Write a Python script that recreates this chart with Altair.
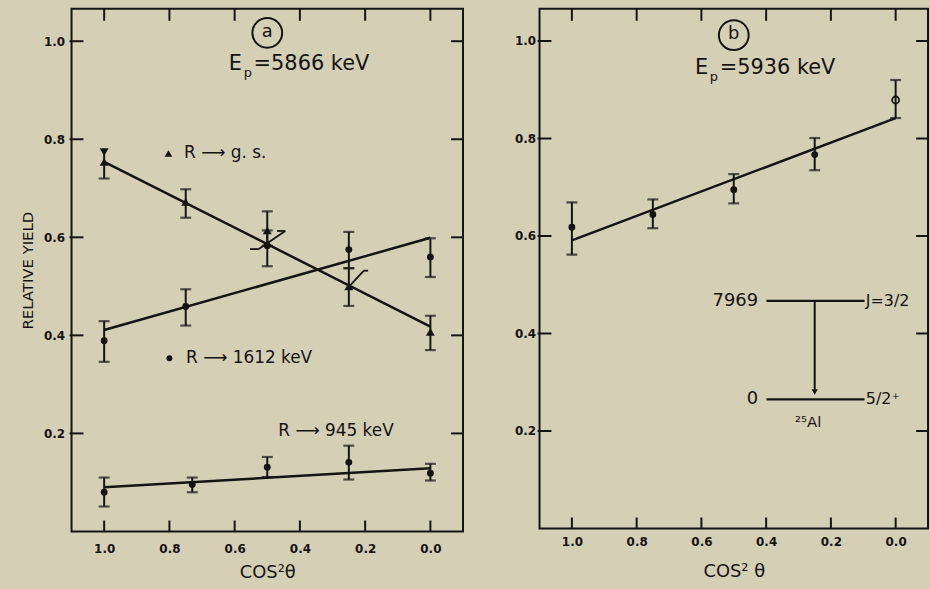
import altair as alt
import pandas as pd

# ---- data -------------------------------------------------------------
cos2 = [1.0, 0.75, 0.5, 0.25, 0.0]
cos2_945 = [1.0, 0.73, 0.5, 0.25, 0.0]

# panel (a), Ep = 5866 keV
gs_y = [0.754, 0.672, 0.614, 0.500, 0.407]
gs_lo = [0.720, 0.640, 0.583, 0.460, 0.370]
gs_hi = [0.778, 0.698, 0.653, 0.537, 0.440]
gs_fit = [0.754, 0.418]

k1612_y = [0.389, 0.459, 0.583, 0.575, 0.560]
k1612_lo = [0.346, 0.420, 0.541, 0.537, 0.519]
k1612_hi = [0.429, 0.494, 0.614, 0.611, 0.598]
k1612_fit = [0.411, 0.599]

k945_y = [0.080, 0.096, 0.131, 0.141, 0.119]
k945_lo = [0.051, 0.080, 0.111, 0.106, 0.104]
k945_hi = [0.110, 0.110, 0.152, 0.175, 0.138]
k945_fit = [0.090, 0.129]

# panel (b), Ep = 5936 keV
b_y = [0.618, 0.644, 0.695, 0.767, 0.879]
b_lo = [0.562, 0.616, 0.667, 0.735, 0.842]
b_hi = [0.669, 0.675, 0.727, 0.801, 0.920]
b_marker = ["dot", "dot", "dot", "dot", "ring"]
b_fit = [0.591, 0.842]

fit_x = [1.0, 0.0]
x_ticks = [1.0, 0.8, 0.6, 0.4, 0.2, 0.0]
y_ticks = [0.2, 0.4, 0.6, 0.8, 1.0]

# small hand-drawn crossing marks near the g.s./1612 intersection
slash_x = [0.526, 0.553, 0.470, 0.246, 0.204]
slash_y = [0.576, 0.576, 0.613, 0.502, 0.532]
slash_x2 = [0.445, 0.526, 0.445, 0.204, 0.191]
slash_y2 = [0.613, 0.576, 0.613, 0.532, 0.532]

INK = "#161412"
PAPER = "#d5cfb6"
FONT = "DejaVu Sans"


def series_frame(name, xs, ys, los, his, markers):
    return pd.DataFrame({"series": name, "x": xs, "y": ys, "lo": los,
                         "hi": his, "marker": markers})


pts_a = pd.concat([
    series_frame("gs", cos2, gs_y, gs_lo, gs_hi, ["tri"] * 5),
    series_frame("k1612", cos2, k1612_y, k1612_lo, k1612_hi, ["dot"] * 5),
    series_frame("k945", cos2_945, k945_y, k945_lo, k945_hi, ["dot"] * 5),
], ignore_index=True)
pts_b = series_frame("b", cos2, b_y, b_lo, b_hi, b_marker)

fits_a = pd.concat([
    pd.DataFrame({"series": "gs", "x": fit_x, "y": gs_fit}),
    pd.DataFrame({"series": "k1612", "x": fit_x, "y": k1612_fit}),
    pd.DataFrame({"series": "k945", "x": fit_x, "y": k945_fit}),
], ignore_index=True)
fits_b = pd.DataFrame({"series": "b", "x": fit_x, "y": b_fit})


def caps_frame(pts):
    rows = []
    for _, r in pts.iterrows():
        for end in ("lo", "hi"):
            # the upper cap of the first g.s. point is drawn as a solid wedge
            style = "wedge" if (r["series"] == "gs" and r["x"] == 1.0 and end == "hi") else "bar"
            rows.append({"x": r["x"], "y": r[end], "style": style})
    return pd.DataFrame(rows)


def panel(pts, fits, width, height, ytitle, xtitle, xlabpad, ylabpad,
          xtitlepad, extra):
    xs = alt.Scale(domain=[-0.1, 1.1], reverse=True, nice=False, zero=False)
    ys = alt.Scale(domain=[0, 1.066], nice=False, zero=False)
    xax = alt.Axis(values=x_ticks, format=".1f", tickSize=0, domain=False,
                   grid=False, labelPadding=xlabpad, labelFontSize=12,
                   labelFont=FONT, labelFontWeight="bold", labelColor=INK,
                   title=xtitle, titleFont=FONT, titleFontSize=18,
                   titleFontWeight="normal", titleColor=INK,
                   titlePadding=xtitlepad)
    yax = alt.Axis(values=y_ticks, format=".1f", tickSize=0, domain=False,
                   grid=False, labelPadding=ylabpad, labelFontSize=12,
                   labelFont=FONT, labelFontWeight="bold", labelColor=INK,
                   title=ytitle, titleFont=FONT, titleFontSize=15,
                   titleFontWeight="normal", titleColor=INK, titlePadding=8)
    X = alt.X("x:Q", scale=xs, axis=xax)
    Y = alt.Y("y:Q", scale=ys, axis=yax)

    fit = alt.Chart(fits).mark_line(color=INK, strokeWidth=2.5).encode(
        x=X, y=Y, detail="series:N")
    bars = alt.Chart(pts).mark_rule(color=INK, strokeWidth=2).encode(
        x="x:Q", y="lo:Q", y2="hi:Q")
    caps_df = caps_frame(pts)
    caps = alt.Chart(caps_df).transform_filter(alt.datum.style == "bar").mark_tick(
        orient="horizontal", size=11, thickness=2.2, color=INK).encode(x="x:Q", y="y:Q")
    wedge = alt.Chart(caps_df).transform_filter(alt.datum.style == "wedge").mark_point(
        shape="triangle-down", filled=True, size=80, color=INK, opacity=1).encode(
        x="x:Q", y=alt.Y("y:Q"), yOffset=alt.value(2))
    tri = alt.Chart(pts).transform_filter(alt.datum.marker == "tri").mark_point(
        shape="triangle-up", filled=True, size=80, color=INK, opacity=1).encode(
        x="x:Q", y="y:Q")
    dot = alt.Chart(pts).transform_filter(alt.datum.marker == "dot").mark_point(
        shape="circle", filled=True, size=48, color=INK, opacity=1).encode(
        x="x:Q", y="y:Q")
    ring = alt.Chart(pts).transform_filter(alt.datum.marker == "ring").mark_point(
        shape="circle", filled=False, size=50, strokeWidth=1.8, color=INK,
        opacity=1).encode(x="x:Q", y="y:Q")

    tk_y = pd.DataFrame({"v": y_ticks})
    tk_x = pd.DataFrame({"v": x_ticks})
    tl = alt.Chart(tk_y).mark_rule(color=INK, strokeWidth=2).encode(
        y="v:Q", x=alt.value(-2), x2=alt.value(12))
    tr = alt.Chart(tk_y).mark_rule(color=INK, strokeWidth=2).encode(
        y="v:Q", x=alt.value(width - 12), x2=alt.value(width))
    tb = alt.Chart(tk_x).mark_rule(color=INK, strokeWidth=2).encode(
        x="v:Q", y=alt.value(height), y2=alt.value(height - 11))
    tt = alt.Chart(tk_x).mark_rule(color=INK, strokeWidth=2).encode(
        x="v:Q", y=alt.value(0), y2=alt.value(12))

    return alt.layer(fit, bars, caps, wedge, tri, dot, ring, tl, tr, tb, tt,
                     *extra).properties(width=width, height=height)


def label(text, x, y, size=17, align="left", dx=0, dy=0, baseline="middle"):
    return alt.Chart().mark_text(text=text, font=FONT, fontSize=size,
                                 color=INK, align=align, baseline=baseline,
                                 dx=dx, dy=dy).encode(
        x=alt.datum(x), y=alt.datum(y))


slashes = alt.Chart(pd.DataFrame({"x": slash_x, "y": slash_y,
                                  "x2": slash_x2, "y2": slash_y2})).mark_rule(
    color=INK, strokeWidth=1.8).encode(x="x:Q", y="y:Q", x2="x2:Q", y2="y2:Q")

extra_a = [
    slashes,
    alt.Chart().mark_point(shape="circle", size=900, filled=False,
                           strokeWidth=2, color=INK, opacity=1).encode(
        x=alt.datum(0.5), y=alt.datum(1.017)),
    label("a", 0.5, 1.017, size=18, align="center", dy=-1),
    label("E", 0.618, 0.953, size=21),
    label("p", 0.618, 0.953, size=13, dx=15, dy=9),
    label("=5866  keV", 0.618, 0.953, size=21, dx=25),
    alt.Chart().mark_point(shape="triangle-up", filled=True, size=60,
                           color=INK, opacity=1).encode(
        x=alt.datum(0.803), y=alt.datum(0.771)),
    label("R ⟶ g. s.", 0.755, 0.771, size=17),
    alt.Chart().mark_point(shape="circle", filled=True, size=36,
                           color=INK, opacity=1).encode(
        x=alt.datum(0.80), y=alt.datum(0.3535)),
    label("R ⟶ 1612 keV", 0.749, 0.3535, size=17),
    label("R ⟶ 945 keV", 0.466, 0.204, size=17),
]

# level scheme of 25Al
lvl = pd.DataFrame({"x": [0.399, 0.399], "x2": [0.096, 0.096],
                    "y": [0.467, 0.265]})
extra_b = [
    alt.Chart().mark_point(shape="circle", size=900, filled=False,
                           strokeWidth=2, color=INK, opacity=1).encode(
        x=alt.datum(0.5), y=alt.datum(1.012)),
    label("b", 0.5, 1.012, size=18, align="center", dy=-1),
    label("E", 0.62, 0.945, size=21),
    label("p", 0.62, 0.945, size=13, dx=15, dy=9),
    label("=5936  keV", 0.62, 0.945, size=21, dx=25),
    alt.Chart(lvl).mark_rule(color=INK, strokeWidth=2.2).encode(
        x="x:Q", x2="x2:Q", y="y:Q"),
    alt.Chart().mark_rule(color=INK, strokeWidth=2).encode(
        x=alt.datum(0.25), y=alt.datum(0.467), y2=alt.datum(0.285)),
    alt.Chart().mark_point(shape="triangle-down", filled=True, size=40,
                           color=INK, opacity=1).encode(
        x=alt.datum(0.25), y=alt.datum(0.28)),
    label("7969", 0.425, 0.467, size=18, align="right"),
    label("J=3/2", 0.092, 0.467, size=16),
    label("0", 0.425, 0.265, size=18, align="right"),
    label("5/2⁺", 0.092, 0.265, size=16),
    label("²⁵Al", 0.27, 0.2175, size=15, align="center"),
]

pa = panel(pts_a, fits_a, 394, 526, "RELATIVE  YIELD", "COS²θ", 12, 7, 9, extra_a)
pb = panel(pts_b, fits_b, 391, 523, "", "COS² θ", 8, 4, 15, extra_b)

chart = alt.hconcat(pa, pb, spacing=48).configure(
    background=PAPER,
    padding={"left": 19, "top": 5, "right": 0, "bottom": 6},
).configure_view(stroke=INK, strokeWidth=2)

chart.save("out.html", embed_options={"renderer": "svg", "actions": False})
